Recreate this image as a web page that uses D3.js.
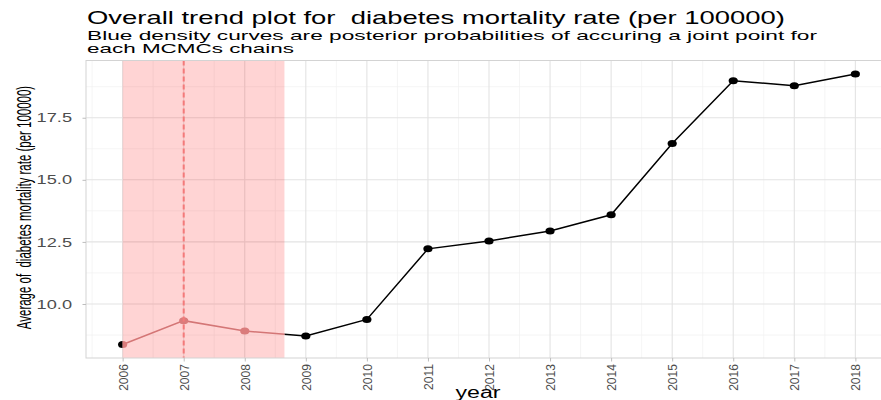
<!DOCTYPE html>
<html>
<head>
<meta charset="utf-8">
<script src="https://cdn.jsdelivr.net/npm/d3@7"></script>
<style>
  body { margin: 0; background: #fff; }
  text { font-family: "Liberation Sans", Arial, Helvetica, sans-serif; white-space: pre; }
</style>
</head>
<body>
<svg id="chart" width="881" height="400"></svg>
<script>
// Yearly average diabetes mortality rate (per 100000)
const years = [2006, 2007, 2008, 2009, 2010, 2011, 2012, 2013, 2014, 2015, 2016, 2017, 2018];
const rates = [8.37, 9.33, 8.91, 8.71, 9.38, 12.22, 12.54, 12.94, 13.59, 16.46, 18.99, 18.79, 19.26];
const yTicks = [10.0, 12.5, 15.0, 17.5];
const yMinor = [8.75, 11.25, 13.75, 16.25, 18.75];
// Estimated joint point and its credible interval
const jointPoint = [2007];
const jointInterval = [2006, 2008.65];

const titleText = "Overall trend plot for  diabetes mortality rate (per 100000)";
const subtitleLines = ["Blue density curves are posterior probabilities of accuring a joint point for",
                       "each MCMCs chains"];
const yTitle = "Average of  diabetes mortality rate (per 100000)";
const xTitle = "year";

const svg = d3.select("#chart");
const panel = { left: 86, right: 892, top: 60.5, bottom: 358 };

// ggplot-style 5% expansion of the data range
const xExt = d3.extent(years), xPad = (xExt[1] - xExt[0]) * 0.05;
const yExt = d3.extent(rates), yPad = (yExt[1] - yExt[0]) * 0.05;
const x = d3.scaleLinear().domain([xExt[0] - xPad, xExt[1] + xPad]).range([panel.left, panel.right]);
const y = d3.scaleLinear().domain([yExt[0] - yPad, yExt[1] + yPad]).range([panel.bottom, panel.top]);

const xMinor = d3.range(years[0] - 0.5, years[years.length - 1] + 1, 1);

const defs = svg.append("defs");
defs.append("clipPath").attr("id", "clip-panel").append("rect")
  .attr("x", panel.left).attr("y", panel.top)
  .attr("width", panel.right - panel.left).attr("height", panel.bottom - panel.top);
defs.append("clipPath").attr("id", "clip-in").append("rect")
  .attr("x", x(jointInterval[0])).attr("y", panel.top)
  .attr("width", x(jointInterval[1]) - x(jointInterval[0])).attr("height", panel.bottom - panel.top);
defs.append("clipPath").attr("id", "clip-out").append("path")
  .attr("clip-rule", "evenodd")
  .attr("d", `M0,0H881V400H0Z M${x(jointInterval[0])},${panel.top}V${panel.bottom}H${x(jointInterval[1])}V${panel.top}Z`);

const g = svg.append("g").attr("clip-path", "url(#clip-panel)");

// grid
g.selectAll("line.ymin").data(yMinor).join("line")
  .attr("x1", panel.left).attr("x2", panel.right)
  .attr("y1", d => y(d)).attr("y2", d => y(d))
  .attr("stroke", "#f0f0f0").attr("stroke-width", 0.7);
g.selectAll("line.xmin").data(xMinor).join("line")
  .attr("y1", panel.top).attr("y2", panel.bottom)
  .attr("x1", d => x(d)).attr("x2", d => x(d))
  .attr("stroke", "#f0f0f0").attr("stroke-width", 0.7);
g.selectAll("line.ymaj").data(yTicks).join("line")
  .attr("x1", panel.left).attr("x2", panel.right)
  .attr("y1", d => y(d)).attr("y2", d => y(d))
  .attr("stroke", "#e3e3e3").attr("stroke-width", 1.1);
g.selectAll("line.xmaj").data(years).join("line")
  .attr("y1", panel.top).attr("y2", panel.bottom)
  .attr("x1", d => x(d)).attr("x2", d => x(d))
  .attr("stroke", "#e3e3e3").attr("stroke-width", 1.1);

const pts = years.map((yr, i) => [yr, rates[i]]);
const line = d3.line().x(d => x(d[0])).y(d => y(d[1]));

// trend outside the interval
const outG = g.append("g").attr("clip-path", "url(#clip-out)");
outG.append("path").datum(pts).attr("d", line)
  .attr("fill", "none").attr("stroke", "#000").attr("stroke-width", 1.5);
outG.selectAll("ellipse").data(pts).join("ellipse")
  .attr("cx", d => x(d[0])).attr("cy", d => y(d[1]))
  .attr("rx", 4.6).attr("ry", 3.5).attr("fill", "#000");

// credible interval band
g.append("rect")
  .attr("x", x(jointInterval[0])).attr("y", panel.top)
  .attr("width", x(jointInterval[1]) - x(jointInterval[0]))
  .attr("height", panel.bottom - panel.top)
  .attr("fill", "#ff0000").attr("fill-opacity", 0.17);

// trend inside the interval
const inG = g.append("g").attr("clip-path", "url(#clip-in)");
inG.append("path").datum(pts).attr("d", line)
  .attr("fill", "none").attr("stroke", "#d47676").attr("stroke-width", 1.5);
inG.selectAll("ellipse").data(pts).join("ellipse")
  .attr("cx", d => x(d[0])).attr("cy", d => y(d[1]))
  .attr("rx", 4.6).attr("ry", 3.5).attr("fill", "#da7c7c");

// joint point
g.selectAll("line.jp").data(jointPoint).join("line")
  .attr("x1", d => x(d)).attr("x2", d => x(d))
  .attr("y1", panel.top).attr("y2", panel.bottom)
  .attr("stroke", "#f47a7a").attr("stroke-width", 2)
  .attr("stroke-dasharray", "5,3");

// panel border
svg.append("rect")
  .attr("x", panel.left).attr("y", panel.top)
  .attr("width", panel.right - panel.left).attr("height", panel.bottom - panel.top)
  .attr("fill", "none").attr("stroke", "#d3d3d3").attr("stroke-width", 1);

// axes
const yAxis = svg.append("g").attr("transform", `translate(${panel.left},0)`)
  .call(d3.axisLeft(y).tickValues(yTicks).tickFormat(d3.format(".1f")).tickSize(3.5).tickPadding(4));
yAxis.select(".domain").remove();
yAxis.selectAll(".tick line").attr("stroke", "#bdbdbd");
yAxis.selectAll(".tick text").attr("fill", "#4d4d4d").attr("font-size", 13)
  .attr("font-family", "Liberation Sans, Arial, sans-serif")
  .attr("x", -14 / 1.4).attr("transform", "scale(1.4,1)");

const xAxis = svg.append("g").attr("transform", `translate(0,${panel.bottom})`)
  .call(d3.axisBottom(x).tickValues(years).tickFormat(d3.format("d")).tickSize(3.5).tickPadding(4));
xAxis.select(".domain").remove();
xAxis.selectAll(".tick line").attr("stroke", "#bdbdbd");
xAxis.selectAll(".tick text")
  .attr("fill", "#4d4d4d").attr("font-size", 13)
  .attr("font-family", "Liberation Sans, Arial, sans-serif")
  .attr("text-anchor", "end").attr("dy", null).attr("y", 0)
  .attr("transform", "translate(4.5,6) rotate(-90) scale(0.93,1.05)");

// titles
svg.append("text").attr("x", 87).attr("y", 24)
  .attr("font-size", 19).attr("fill", "#000")
  .attr("textLength", 698).attr("lengthAdjust", "spacingAndGlyphs").text(titleText);
svg.append("g").selectAll("text").data(subtitleLines).join("text")
  .attr("x", 87).attr("y", (d, i) => 40 + i * 12.5)
  .attr("font-size", 13.5).attr("fill", "#000")
  .attr("textLength", (d, i) => i === 0 ? 730 : 207).attr("lengthAdjust", "spacingAndGlyphs")
  .text(d => d);

// condensed vertical axis title
svg.append("text")
  .attr("transform", `translate(31,207.5) rotate(-90) scale(0.82,1.42)`)
  .attr("text-anchor", "middle").attr("font-size", 14).attr("fill", "#000").text(yTitle);

svg.append("text").attr("x", 478).attr("y", 398).attr("text-anchor", "middle")
  .attr("font-size", 16).attr("fill", "#000")
  .attr("textLength", 45).attr("lengthAdjust", "spacingAndGlyphs").text(xTitle);
</script>
</body>
</html>
